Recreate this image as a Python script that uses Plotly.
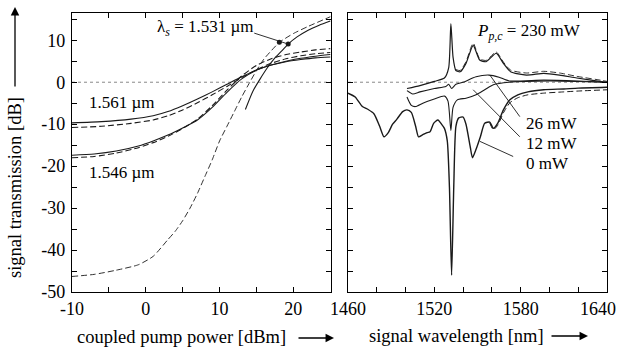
import plotly.graph_objects as go

# ---------------- Left panel: transmission vs coupled pump power ----------------
x561_s = [-10, -6, -2, 1, 3, 5, 7, 9, 11, 13, 15, 17, 19, 21, 23, 25]
y561_s = [-9.7, -9.4, -8.8, -8.0, -7.0, -5.6, -4.0, -2.3, -0.5, 1.3, 2.9, 4.1, 5.0, 5.7, 6.2, 6.6]
x561_d = [-10, -6, -2, 1, 3, 5, 7, 9, 11, 13, 15, 17, 19, 21, 23, 25]
y561_d = [-10.8, -10.5, -9.8, -9.0, -8.0, -6.6, -4.9, -3.0, -1.0, 1.1, 3.0, 4.5, 5.6, 6.3, 6.8, 7.1]

x546_s = [-10, -7, -4, -1, 1, 3, 5, 7, 9, 11, 13, 15, 17, 19, 21, 23, 25]
y546_s = [-17.4, -17.1, -16.4, -15.2, -14.0, -12.6, -10.9, -9.0, -6.0, -2.4, 0.8, 2.9, 4.1, 4.9, 5.4, 5.8, 6.0]
x546_d = [-10, -7, -4, -1, 1, 3, 5, 7, 9, 11, 13, 15, 17, 19, 21, 23, 25]
y546_d = [-18.0, -17.7, -16.9, -15.6, -14.4, -12.9, -11.0, -8.8, -5.6, -1.9, 1.5, 4.0, 5.6, 6.6, 7.2, 7.7, 8.0]

x531_d = [-10, -7, -4, -1, 1, 3, 4, 5, 6, 7, 8, 9, 10, 11, 12, 13, 14, 15, 16, 17, 18.1, 20, 22, 25]
y531_d = [-46.3, -45.8, -44.8, -43.5, -41.5, -37.5, -35.5, -33.0, -30.0, -26.5, -22.5, -18.5,
          -14.0, -10.5, -7.0, -3.5, -0.3, 2.8, 5.5, 7.5, 9.5, 11.6, 13.3, 15.6]
x531_s = [13.5, 14.5, 15.5, 16.5, 17.5, 18.5, 19.3, 20.5, 22, 23.5, 25]
y531_s = [-6.5, -2.2, 0.8, 3.5, 5.8, 7.6, 9.1, 10.8, 12.4, 13.6, 14.6]

dots_x = [18.1, 19.3]
dots_y = [9.5, 9.1]

# ---------------- Right panel: transmission vs signal wavelength ----------------
wl_0 = [1460, 1465, 1470, 1474, 1478, 1482, 1485, 1488, 1491, 1494, 1498, 1501, 1504, 1507,
        1509, 1512, 1515, 1517, 1519.5, 1522.5, 1525, 1527, 1529, 1530.5, 1532, 1533.5, 1535,
        1537, 1540, 1542, 1545, 1546.5, 1549, 1552, 1555, 1558.5, 1561, 1564, 1568, 1572.5,
        1578, 1585, 1596, 1610, 1620, 1640]
tr_0 = [-2.6, -3.5, -5.8, -6.5, -7.5, -10.5, -13.0, -12.0, -10.0, -8.8, -7.0, -6.6, -7.2, -10.5,
        -13.0, -12.5, -12.0, -11.8, -9.8, -9.0, -10.0, -11.0, -14.0, -25.0, -46.0, -25.0, -10.5,
        -8.5, -8.3, -10.0, -15.5, -18.0, -16.0, -13.0, -9.8, -9.5, -11.0, -9.8, -6.6, -4.2,
        -3.0, -2.3, -1.8, -1.6, -1.4, -1.2]
wl_0d = [1558.5, 1561, 1564, 1568, 1572.5, 1578, 1585, 1596, 1610, 1620, 1640]
tr_0d = [-9.7, -11.3, -10.3, -7.3, -4.9, -3.7, -3.0, -2.6, -2.3, -2.1, -1.8]

wl_12 = [1501, 1504, 1507, 1512, 1520, 1527, 1529.5, 1531.5, 1533, 1536, 1542, 1549, 1555, 1561,
         1572, 1600, 1640]
tr_12 = [-3.5, -5.5, -5.8, -5.0, -4.0, -3.3, -4.5, -11.5, -6.0, -4.2, -3.8, -3.0, -1.8, -0.6,
         0.0, 0.3, 0.0]

wl_26 = [1501, 1505, 1510, 1520, 1528, 1530, 1532, 1535, 1540, 1549, 1558, 1565, 1572, 1596,
         1620, 1640]
tr_26 = [-2.0, -2.8, -2.3, -1.5, -1.0, -0.5, -1.5, -0.5, 0.0, 1.3, 1.7, 1.2, 0.3, 0.5, 0.3, 0.0]

wl_230 = [1501, 1510, 1520, 1527, 1530, 1531.5, 1533, 1535, 1538, 1542, 1547, 1551.5, 1556,
          1563, 1568, 1573, 1584, 1596, 1607, 1619, 1637, 1640]
tr_230 = [-1.5, -0.8, 0.2, 1.0, 3.5, 14.0, 6.0, 2.8, 2.5, 4.5, 8.8, 5.3, 4.9, 6.9, 4.5, 2.5,
          1.7, 2.1, 1.7, 1.0, 0.1, 0.0]
wl_230d = [1535, 1538, 1542, 1547, 1551.5, 1556, 1563, 1568, 1573, 1584, 1596, 1607, 1619, 1637, 1640]
tr_230d = [3.0, 2.8, 4.9, 9.3, 5.6, 5.2, 7.2, 4.8, 2.9, 2.2, 2.6, 2.2, 1.4, 0.4, 0.2]

# ticks
left_xticks = [-10, 0, 10, 20]
left_xlabels = ["-10", "0", "10", "20"]
left_yticks = [-50, -40, -30, -20, -10, 0, 10]
left_ylabels = ["-50", "-40", "-30", "-20", "-10", "0", "10"]
right_xticks = [1460, 1520, 1580, 1640]
right_xlabels = ["1460", "1520", "1580", ""]   # last label placed separately (kept inside page)
right_last_label = "1640"

FONT = "Liberation Serif"
INK = "#1a1a1a"
W, H = 624, 353

fig = go.Figure()

def line(x, y, xa, ya, dash="solid", width=1.1):
    fig.add_trace(go.Scatter(x=x, y=y, xaxis=xa, yaxis=ya, mode="lines",
                             line=dict(color=INK, width=width, dash=dash, shape="spline", smoothing=0.6),
                             showlegend=False, hoverinfo="skip"))

DASH = "6px,3px"
line(x561_s, y561_s, "x", "y")
line(x561_d, y561_d, "x", "y", DASH)
line(x546_s, y546_s, "x", "y")
line(x546_d, y546_d, "x", "y", DASH)
line(x531_d, y531_d, "x", "y", DASH, 0.9)
line(x531_s, y531_s, "x", "y")
fig.add_trace(go.Scatter(x=dots_x, y=dots_y, mode="markers", marker=dict(color=INK, size=5),
                         showlegend=False, hoverinfo="skip"))

line(wl_0, tr_0, "x2", "y2", "solid", 1.4)
line(wl_0d, tr_0d, "x2", "y2", DASH, 1.0)
line(wl_12, tr_12, "x2", "y2")
line(wl_26, tr_26, "x2", "y2")
line(wl_230, tr_230, "x2", "y2", "solid", 1.2)
line(wl_230d, tr_230d, "x2", "y2", DASH, 0.9)

# zero reference dotted lines
fig.add_shape(type="line", xref="x", yref="y", x0=-10, x1=25.1, y0=0, y1=0,
              line=dict(color="#888", width=1, dash="dot"), layer="below")
fig.add_shape(type="line", xref="x2", yref="y2", x0=1460, x1=1640, y0=0, y1=0,
              line=dict(color="#888", width=1, dash="dot"), layer="below")

# leader lines (right panel)
for (xa, ya, xb, yb) in [(1558.6, 1.7, 1579.4, -8.2), (1547, -1.8, 1579.4, -13.0),
                         (1551.7, -14.1, 1574.8, -17.7)]:
    fig.add_shape(type="line", xref="x2", yref="y2", x0=xa, y0=ya, x1=xb, y1=yb,
                  line=dict(color=INK, width=0.9))
# leader line (left panel)
fig.add_shape(type="line", xref="x", yref="y", x0=14.7, y0=11.7, x1=19.3, y1=9.1,
              line=dict(color=INK, width=0.9))

tf = dict(family=FONT, size=18, color="black")
axcommon = dict(showline=True, linecolor="black", linewidth=1.3, mirror="allticks",
                ticks="inside", ticklen=5, tickwidth=1.2, tickcolor="black",
                showgrid=False, zeroline=False, tickfont=tf, fixedrange=True,
                automargin=False)

xd1 = [72 / W, 331 / W]
xd2 = [348 / W, 607 / W]
yd = [1 - 292 / H, 1 - 13 / H]
yminor = dict(tickvals=[-45, -35, -25, -15, -5, 5, 15], ticks="inside", ticklen=5, tickcolor="black")

fig.update_layout(
    width=W, height=H, margin=dict(l=0, r=0, t=0, b=0),
    paper_bgcolor="white", plot_bgcolor="white",
    xaxis=dict(domain=xd1, range=[-10, 25.1], tickmode="array", tickvals=left_xticks,
               ticktext=left_xlabels,
               minor=dict(tickvals=[-5, 5, 15], ticks="inside", ticklen=5, tickcolor="black"),
               anchor="y", **axcommon),
    yaxis=dict(domain=yd, range=[-50, 16.5], tickmode="array", tickvals=left_yticks,
               ticktext=left_ylabels, minor=yminor,
               anchor="x", ticklabelstandoff=2, **axcommon),
    xaxis2=dict(domain=xd2, range=[1460, 1640], tickmode="array", tickvals=right_xticks,
                ticktext=right_xlabels,
                minor=dict(tickvals=[1480, 1500, 1540, 1560, 1600, 1620], ticks="inside",
                           ticklen=5, tickcolor="black"),
                anchor="y2", **axcommon),
    yaxis2=dict(domain=yd, range=[-50, 16.5], tickmode="array", tickvals=left_yticks,
                minor=yminor, showticklabels=False, anchor="x2", **axcommon),
)

# last wavelength tick label, nudged left so it stays inside the page like the reference
fig.add_annotation(text=right_last_label, x=right_xticks[-1], xref="x2", y=1 - 309 / H,
                   yref="paper", showarrow=False, xanchor="center", yanchor="middle",
                   xshift=-9, font=tf)

af = dict(family=FONT, size=17, color="black")

def ann(text, x, y, xref, yref, xanchor="left", **kw):
    fig.add_annotation(text=text, x=x, y=y, xref=xref, yref=yref, showarrow=False,
                       xanchor=xanchor, yanchor="middle", font=af, **kw)

# curve labels
ann("λ<sub><i>s</i></sub> = 1.531 µm", 1.2, 12.9, "x", "y")
ann("1.561 µm", -8.0, -4.9, "x", "y")
ann("1.546 µm", -8.0, -21.4, "x", "y")
ann("<i>P</i><sub><i>p,c</i></sub> = 230 mW", 1548, 12.0, "x2", "y2")
ann("26 mW", 1582, -9.9, "x2", "y2")
ann("12 mW", 1582, -14.5, "x2", "y2")
ann("0 mW", 1582, -19.3, "x2", "y2")

# axis titles (paper coordinates) with long arrows
tfont = dict(family=FONT, size=18.5, color="black")
fig.add_annotation(text="coupled pump power [dBm]", x=181.5 / W, y=1 - 337 / H, xref="paper",
                   yref="paper", showarrow=False, xanchor="center", yanchor="middle", font=tfont)
fig.add_annotation(text="signal wavelength [nm]", x=457 / W, y=1 - 336 / H, xref="paper",
                   yref="paper", showarrow=False, xanchor="center", yanchor="middle", font=tfont)
fig.add_annotation(text="signal transmission [dB]", x=15 / W, y=1 - 188 / H, xref="paper",
                   yref="paper", showarrow=False, xanchor="center", yanchor="middle",
                   textangle=-90, font=tfont)

def arrow(x0, y0, x1, y1):
    fig.add_annotation(text="", x=x1 / W, y=1 - y1 / H, xref="paper", yref="paper",
                       ax=x0 - x1, ay=y0 - y1, axref="pixel", ayref="pixel",
                       showarrow=True, arrowhead=2, arrowsize=1.3, arrowwidth=1.3,
                       arrowcolor="black")

arrow(297, 338, 334, 338)
arrow(550, 336, 588, 336)
arrow(15, 88, 15, 7)

fig.write_html("out.html")
